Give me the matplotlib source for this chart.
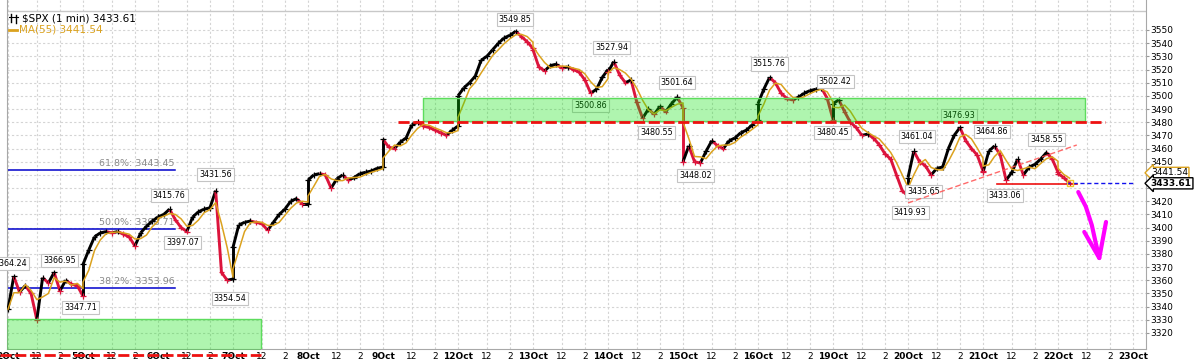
import matplotlib
matplotlib.use('Agg')
import matplotlib.pyplot as plt
from matplotlib.collections import LineCollection
from matplotlib.lines import Line2D
import numpy as np
import pandas as pd

# sessions shown on the x axis (one slot per trading day)
days = ['2Oct', '5Oct', '6Oct', '7Oct', '8Oct', '9Oct', '12Oct', '13Oct', '14Oct',
        '15Oct', '16Oct', '19Oct', '20Oct', '21Oct', '22Oct', '23Oct']
# minutes after the 9:30 open, one sample every 30 min up to the 16:00 close
minutes = [0, 30, 60, 90, 120, 150, 180, 210, 240, 270, 300, 330, 360, 390]

# $SPX at those times
px_oct02 = [3338, 3363, 3351, 3356, 3350, 3330, 3362, 3358, 3366, 3352, 3360, 3357, 3356, 3348]
px_oct05 = [3372, 3383, 3393, 3396, 3397, 3396, 3397, 3395, 3393, 3386, 3396, 3401, 3405, 3408]
px_oct06 = [3408, 3410, 3414, 3406, 3400, 3397, 3408, 3412, 3414, 3415, 3428, 3366, 3360, 3361]
px_oct07 = [3385, 3402, 3404, 3405, 3404, 3403, 3398, 3404, 3410, 3414, 3420, 3422, 3418, 3418]
px_oct08 = [3436, 3440, 3441, 3440, 3430, 3437, 3440, 3436, 3438, 3441, 3442, 3443, 3445, 3446]
px_oct09 = [3467, 3461, 3460, 3465, 3468, 3478, 3480, 3477, 3476, 3474, 3472, 3470, 3474, 3477]
px_oct12 = [3500, 3506, 3510, 3515, 3527, 3530, 3535, 3540, 3544, 3546, 3549, 3545, 3541, 3536]
px_oct13 = [3535, 3522, 3519, 3523, 3524, 3521, 3522, 3520, 3518, 3512, 3502, 3505, 3514, 3520]
px_oct14 = [3518, 3526, 3516, 3510, 3512, 3495, 3483, 3490, 3486, 3492, 3488, 3494, 3499, 3491]
px_oct15 = [3450, 3462, 3450, 3449, 3458, 3466, 3462, 3460, 3466, 3468, 3472, 3474, 3478, 3482]
px_oct16 = [3494, 3505, 3514, 3510, 3502, 3498, 3497, 3499, 3502, 3504, 3505, 3506, 3498, 3482]
px_oct19 = [3494, 3497, 3488, 3480, 3476, 3470, 3471, 3468, 3463, 3456, 3452, 3440, 3428, 3424]
px_oct20 = [3438, 3458, 3450, 3447, 3440, 3445, 3446, 3460, 3470, 3476, 3466, 3460, 3455, 3443]
px_oct21 = [3442, 3458, 3462, 3455, 3436, 3442, 3452, 3440, 3446, 3448, 3452, 3457, 3452, 3442]
px_oct22 = [3441, 3438, 3433.61]
sessions = [px_oct02, px_oct05, px_oct06, px_oct07, px_oct08, px_oct09, px_oct12,
            px_oct13, px_oct14, px_oct15, px_oct16, px_oct19, px_oct20, px_oct21, px_oct22]

last_price = 3433.61
last_ma = 3441.54

# swing high / low labels: value, session position, above(+1)/below(-1)
swing_vals = [3364.24, 3366.95, 3347.71, 3415.76, 3397.07, 3431.56, 3354.54, 3549.85, 3500.86,
              3527.94, 3480.55, 3501.64, 3448.02, 3515.76, 3480.45, 3502.42, 3419.93, 3461.04,
              3435.65, 3476.93, 3464.86, 3433.06, 3458.55]
swing_pos = [0.03, 0.69, 0.97, 2.15, 2.33, 2.77, 2.96, 6.76, 7.77, 8.05, 8.65, 8.92, 9.17,
             10.15, 10.99, 11.03, 12.03, 12.12, 12.21, 12.68, 13.12, 13.29, 13.85]
swing_side = [1, 1, -1, 1, -1, 1, -1, 1, -1, 1, -1, 1, -1, 1, -1, 1, -1, 1, -1, 1, 1, -1, 1]

# fibonacci retracement levels
fib_names = ['61.8%', '50.0%', '38.2%']
fib_levels = [3443.45, 3398.71, 3353.96]

# drawn zones and lines
zone_hi = [3481.0, 3498.5]
zone_hi_span = [5.53, 14.36]
zone_lo = [3300.0, 3330.5]
zone_lo_span = [-0.02, 3.37]
resist = 3480.4
resist_span = [5.2, 14.63]
base_line = 3303.3
trend_x = [12.0, 14.25]
trend_y = [3418.7, 3462.7]
support = 3433.06
support_span = [13.19, 14.25]
arrow_x = [14.27, 14.37, 14.45, 14.50, 14.55]
arrow_y = [3427.0, 3416.0, 3402.0, 3389.1, 3376.9]
head_x = [14.35, 14.55, 14.64]
head_y = [3396.7, 3376.9, 3404.3]

RED = '#dc143c'
MA_C = '#dba21e'

xs, ys = [], []
for i, s in enumerate(sessions):
    for j, p in enumerate(s):
        xs.append(i + minutes[j] / 390)
        ys.append(p)
xs = np.array(xs)
ys = np.array(ys, dtype=float)
ma = pd.Series(ys).rolling(3, min_periods=1).mean().values

fig = plt.figure(figsize=(12.04, 3.61), dpi=100)
ax = fig.add_axes([7 / 1204, 12 / 361, 1139 / 1204, 349 / 361])

# ticks and grid
yt = np.arange(3320, 3551, 10)
ax.set_yticks(yt)
ax.set_yticklabels(['' if v in (3430, 3440) else str(v) for v in yt])
xt, xl = [], []
for i, d in enumerate(days):
    xt += [i, i + 150 / 390, i + 270 / 390]
    xl += [d, '12', '2']
ax.set_xticks(xt)
ax.set_xticklabels(xl, fontsize=6.5)
for lab, t in zip(ax.get_xticklabels(), xl):
    if 'Oct' in t:
        lab.set_fontweight('bold')
ax.set_xlim(-0.0133, 15.173)
ax.set_ylim(3307.85, 3572.77)
ax.grid(True, color='#d4d4d4', linestyle=(0, (2, 2)), linewidth=0.8)
ax.set_axisbelow(True)
ax.tick_params(axis='x', length=0, pad=2)
ax.yaxis.tick_right()
ax.tick_params(axis='y', length=2.5, pad=0.5, labelsize=6.5, color='#999999')
ax.spines['top'].set_visible(False)
for sp in ['left', 'right', 'bottom']:
    ax.spines[sp].set_color('#a8a8a8')
ax.axhline(3564.4, color='#c8c8c8', lw=1, zorder=1)

# price path, black up / red down
pts = np.column_stack([xs, ys])
segs = np.stack([pts[:-1], pts[1:]], axis=1)
cols = ['black' if b >= a else RED for a, b in zip(ys[:-1], ys[1:])]
ax.add_collection(LineCollection(segs, colors=cols, linewidths=2.1, zorder=3), autolim=False)
mcols = ['black'] + cols
ax.scatter(xs, ys, marker='+', s=16, c=mcols, linewidths=0.9, zorder=3)
ax.plot(xs, ma, color=MA_C, lw=1.1, zorder=4)

# fibonacci lines
for name, lv in zip(fib_names, fib_levels):
    ax.plot([-0.02, 2.23], [lv, lv], color='#0000cc', lw=1.1, zorder=2)
    ax.text(2.22, lv + 1.5, f'{name}: {lv:.2f}', ha='right', va='bottom',
            fontsize=6.8, color='#8a8a8a', zorder=2)

# swing labels
for v, p, s in zip(swing_vals, swing_pos, swing_side):
    ax.annotate(f'{v:.2f}', xy=(p, v), xytext=(0, 8 * s), textcoords='offset points',
                ha='center', va='center', fontsize=5.8, zorder=5, annotation_clip=False,
                bbox=dict(boxstyle='square,pad=0.25', fc='white', ec='#c4c4c4', lw=0.8))

# zones
ax.fill_between(zone_hi_span, zone_hi[0], zone_hi[1], color='#0ce20c', alpha=0.33,
                lw=0, zorder=6)
ax.plot([zone_hi_span[0], zone_hi_span[1], zone_hi_span[1], zone_hi_span[0], zone_hi_span[0]],
        [zone_hi[0], zone_hi[0], zone_hi[1], zone_hi[1], zone_hi[0]], color='#5ddc5d', lw=1, zorder=6)
ax.fill_between(zone_lo_span, zone_lo[0], zone_lo[1], color='#0ce20c', alpha=0.33,
                lw=0, zorder=6)
ax.plot([zone_lo_span[0], zone_lo_span[1], zone_lo_span[1]],
        [zone_lo[1], zone_lo[1], zone_lo[0]], color='#5ddc5d', lw=1, zorder=6)

# drawn lines
ax.plot(resist_span, [resist, resist], color='#ee1111', lw=2, linestyle=(0, (4, 1.3)), zorder=7)
ax.plot([-0.1, 3.37], [base_line, base_line], color='#ee1111', lw=2,
        linestyle=(0, (4, 1.3)), zorder=7, clip_on=False)
ax.plot(trend_x, trend_y, color='#ff5050', lw=1, linestyle=(0, (4, 2)), alpha=0.85, zorder=7)
ax.plot(support_span, [support, support], color='#ee1111', lw=1.2, zorder=7)
ax.plot([xs[-1] - 0.05, 15.03], [last_price, last_price], color='#1010ee', lw=1,
        linestyle=(0, (3, 2)), zorder=7)
ax.plot(xs[-1], last_price, marker='s', ms=4, mfc='none', mec='#f0c830', mew=1, zorder=8)

# magenta hand-drawn arrow
ax.plot(arrow_x, arrow_y, color='#ff00ff', lw=3, solid_capstyle='round', zorder=8)
ax.plot(head_x, head_y, color='#ff00ff', lw=3, solid_capstyle='round',
        solid_joinstyle='round', zorder=8)

# price tags on the axis
ax.annotate(f'{last_ma:.2f}', xy=(1, last_ma), xycoords=('axes fraction', 'data'),
            xytext=(3.5, 0), textcoords='offset points', ha='left', va='center',
            fontsize=6.5, annotation_clip=False, zorder=9,
            bbox=dict(boxstyle='larrow,pad=0.12', fc='white', ec=MA_C, lw=1))
ax.annotate(f'{last_price:.2f}', xy=(1, last_price), xycoords=('axes fraction', 'data'),
            xytext=(3.5, 0), textcoords='offset points', ha='left', va='center',
            fontsize=6.5, fontweight='bold', annotation_clip=False, zorder=9,
            bbox=dict(boxstyle='larrow,pad=0.12', fc='white', ec='black', lw=1))

# header legend
fig.text(22 / 1204, 1 - 18.5 / 361, f'$SPX (1 min) {last_price:.2f}', fontsize=7.5,
         va='center', ha='left', color='black')
fig.add_artist(Line2D([11 / 1204, 11 / 1204], [1 - 22 / 361, 1 - 14 / 361], color='black', lw=1))
fig.add_artist(Line2D([16 / 1204, 16 / 1204], [1 - 23 / 361, 1 - 15 / 361], color='black', lw=1))
fig.add_artist(Line2D([9 / 1204, 18 / 1204], [1 - 17 / 361, 1 - 17 / 361], color='black', lw=0.8))
fig.add_artist(Line2D([9 / 1204, 17 / 1204], [1 - 29.5 / 361, 1 - 29.5 / 361], color=MA_C, lw=2))
fig.text(19 / 1204, 1 - 29.5 / 361, f'MA(55) {last_ma:.2f}', fontsize=7.5,
         va='center', ha='left', color=MA_C)

fig.savefig('out.png', dpi=100)
